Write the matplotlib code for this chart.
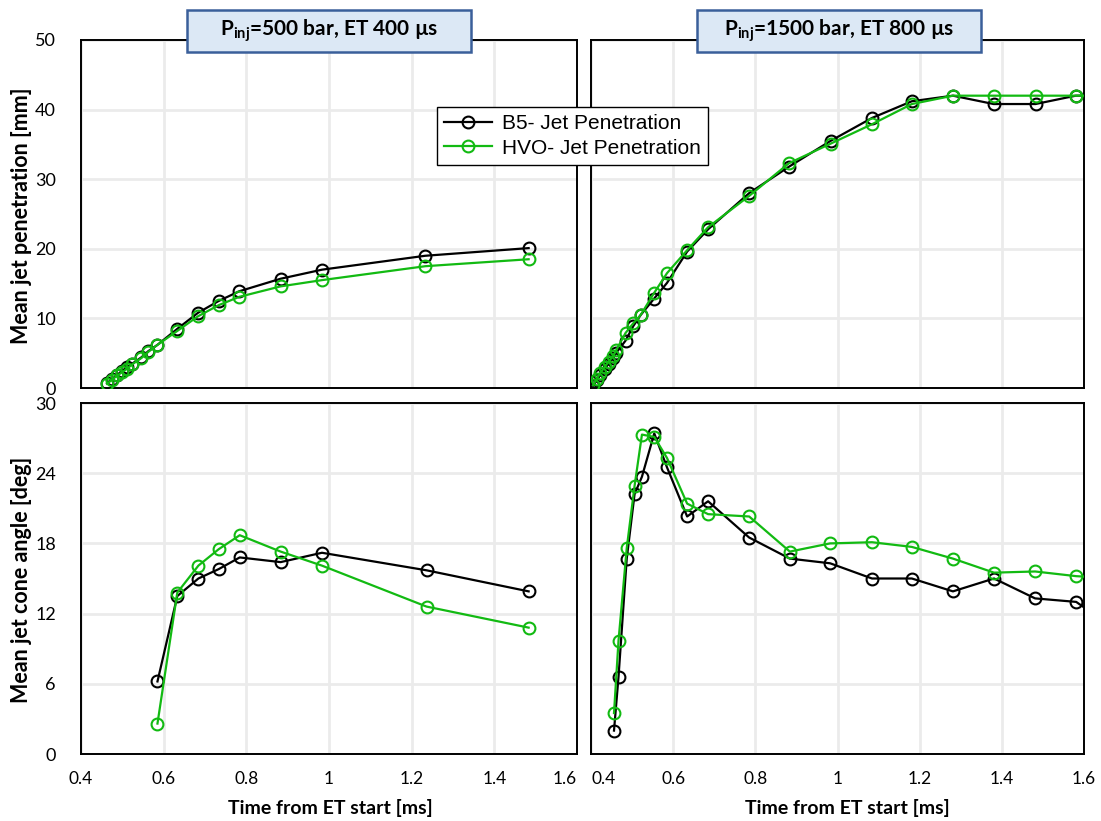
import matplotlib
matplotlib.use("Agg")
import matplotlib.pyplot as plt
from matplotlib.patches import Rectangle

# ----- Data ---------------------------------------------------------------

# Pinj = 500 bar, ET 400 us : jet penetration [mm]
t_pen_500 = [0.463, 0.475, 0.488, 0.500, 0.512, 0.524, 0.546, 0.563, 0.585,
             0.633, 0.683, 0.733, 0.783, 0.883, 0.983, 1.233, 1.483]
b5_pen_500 = [0.7, 1.3, 1.9, 2.5, 3.0, 3.5, 4.4, 5.3, 6.2,
              8.5, 10.8, 12.5, 13.9, 15.7, 17.0, 19.0, 20.1]
hvo_pen_500 = [0.6, 1.2, 1.8, 2.3, 2.8, 3.4, 4.3, 5.2, 6.2,
               8.2, 10.3, 11.9, 13.1, 14.6, 15.5, 17.5, 18.5]

# Pinj = 1500 bar, ET 800 us : jet penetration [mm]
t_pen_1500 = [0.405, 0.414, 0.423, 0.433, 0.443, 0.454, 0.462, 0.484, 0.503,
              0.521, 0.553, 0.585, 0.634, 0.685, 0.785, 0.882, 0.983, 1.084,
              1.181, 1.281, 1.380, 1.482, 1.580, 1.683]
b5_pen_1500 = [0.3, 1.1, 1.9, 2.7, 3.5, 4.3, 5.1, 6.8, 8.9,
               10.5, 12.8, 15.1, 19.6, 22.8, 28.0, 31.8, 35.5, 38.8,
               41.2, 42.0, 40.8, 40.8, 42.0, 42.0]
hvo_pen_1500 = [0.4, 1.3, 2.2, 3.0, 3.8, 4.6, 5.5, 7.9, 9.3,
                10.5, 13.6, 16.5, 19.8, 23.1, 27.6, 32.3, 35.1, 37.9,
                40.8, 42.0, 42.0, 42.0, 42.0, 42.0]

# Pinj = 500 bar, ET 400 us : cone angle [deg]
t_cone_500 = [0.585, 0.633, 0.684, 0.733, 0.784, 0.883, 0.983, 1.236, 1.483]
b5_cone_500 = [6.2, 13.5, 15.0, 15.8, 16.8, 16.4, 17.2, 15.7, 13.9]
hvo_cone_500 = [2.6, 13.8, 16.1, 17.5, 18.7, 17.3, 16.1, 12.6, 10.8]

# Pinj = 1500 bar, ET 800 us : cone angle [deg]
t_cone_1500 = [0.456, 0.467, 0.487, 0.506, 0.524, 0.554, 0.585, 0.634, 0.685,
               0.785, 0.884, 0.982, 1.084, 1.181, 1.281, 1.381, 1.481, 1.581,
               1.683]
b5_cone_1500 = [2.0, 6.6, 16.7, 22.2, 23.7, 27.4, 24.5, 20.3, 21.6,
                18.5, 16.7, 16.3, 15.0, 15.0, 13.9, 15.0, 13.3, 13.0, 10.5]
hvo_cone_1500 = [3.5, 9.7, 17.6, 22.9, 27.3, 27.1, 25.3, 21.4, 20.5,
                 20.3, 17.3, 18.0, 18.1, 17.7, 16.7, 15.5, 15.6, 15.2, 15.0]

titles = ["P$_{\\mathregular{inj}}$=500 bar, ET 400 µs",
          "P$_{\\mathregular{inj}}$=1500 bar, ET 800 µs"]
x_ticks = [0.4, 0.6, 0.8, 1.0, 1.2, 1.4, 1.6]
x_tick_labels = ["0.4", "0.6", "0.8", "1", "1.2", "1.4", "1.6"]
pen_ticks = [0, 10, 20, 30, 40, 50]
cone_ticks = [0, 6, 12, 18, 24, 30]

B5_COLOR = "black"
HVO_COLOR = "#12BA12"
GRID_COLOR = "#EBEBEB"

plt.rcParams["font.family"] = ["Lato", "DejaVu Sans"]
plt.rcParams["mathtext.default"] = "regular"

W, H = 1101, 821
fig = plt.figure(figsize=(W / 100, H / 100), dpi=100)

# axes rectangles in figure fractions (left, bottom, width, height)
left_x, left_w = 81 / W, 496 / W
right_x, right_w = 591 / W, 493 / W
top_y, top_h = (H - 388) / H, 348 / H
bot_y, bot_h = (H - 754) / H, 351 / H

ax_tl = fig.add_axes([left_x, top_y, left_w, top_h])
ax_tr = fig.add_axes([right_x, top_y, right_w, top_h])
ax_bl = fig.add_axes([left_x, bot_y, left_w, bot_h])
ax_br = fig.add_axes([right_x, bot_y, right_w, bot_h])


def _draw(ax, t, b5, hvo):
    style = dict(marker="o", markersize=8.5, markerfacecolor="none",
                 markeredgewidth=1.5, lw=1.6)
    ax.plot(t, b5, color=B5_COLOR, markeredgecolor=B5_COLOR,
            label="B5- Jet Penetration", zorder=3, **style)
    ax.plot(t, hvo, color=HVO_COLOR, markeredgecolor=HVO_COLOR,
            label="HVO- Jet Penetration", zorder=4, **style)


def _style(ax, yticks, show_x, show_y):
    ax.set_xlim(0.4, 1.6)
    ax.set_ylim(yticks[0], yticks[-1])
    ax.set_xticks(x_ticks)
    ax.set_yticks(yticks)
    ax.grid(True, color=GRID_COLOR, lw=2)
    ax.set_axisbelow(True)
    for sp in ax.spines.values():
        sp.set_color("black")
        sp.set_linewidth(1.4)
    ax.tick_params(axis="y", length=0, labelsize=13, pad=18,
                   labelleft=show_y)
    ax.tick_params(axis="x", length=0, labelsize=12.5, pad=12,
                   labelbottom=show_x)
    if show_x:
        ax.set_xticklabels(x_tick_labels)


_draw(ax_tl, t_pen_500, b5_pen_500, hvo_pen_500)
_draw(ax_tr, t_pen_1500, b5_pen_1500, hvo_pen_1500)
_draw(ax_bl, t_cone_500, b5_cone_500, hvo_cone_500)
_draw(ax_br, t_cone_1500, b5_cone_1500, hvo_cone_1500)

_style(ax_tl, pen_ticks, show_x=False, show_y=True)
_style(ax_tr, pen_ticks, show_x=False, show_y=False)
_style(ax_bl, cone_ticks, show_x=True, show_y=True)
_style(ax_br, cone_ticks, show_x=True, show_y=False)

# nudge the touching "1.6" / "0.4" labels apart a little
ax_bl.get_xticklabels()[-1].set_horizontalalignment("right")
ax_bl.get_xticklabels()[-1].set_x(1.6)
ax_br.get_xticklabels()[0].set_horizontalalignment("left")

# axis labels
fig.text(22 / W, 1 - 216 / H, "Mean jet penetration [mm]",
         rotation=90, ha="center", va="center", fontsize=15.5,
         fontweight="bold")
fig.text(22 / W, 1 - 580 / H, "Mean jet cone angle [deg]",
         rotation=90, ha="center", va="center", fontsize=15.5,
         fontweight="bold")
fig.text(330 / W, 1 - 808 / H, "Time from ET start [ms]",
         ha="center", va="center", fontsize=14, fontweight="bold")
fig.text(847 / W, 1 - 808 / H, "Time from ET start [ms]",
         ha="center", va="center", fontsize=14, fontweight="bold")

# condition boxes above each column
for x0, x1, txt in [(187, 471, titles[0]), (697, 981, titles[1])]:
    fig.patches.append(Rectangle((x0 / W, 1 - 52 / H), (x1 - x0) / W,
                                 42 / H, transform=fig.transFigure,
                                 facecolor="#DCE8F5", edgecolor="#3A5F9A",
                                 linewidth=1.8, zorder=5))
    fig.text((x0 + x1) / 2 / W, 1 - 31 / H, txt, ha="center", va="center",
             fontsize=15, fontweight="bold", zorder=6)

# shared legend
handles, labels = ax_tl.get_legend_handles_labels()
fig.legend(handles, labels, loc="upper left",
           bbox_to_anchor=(437 / W, 1 - 107 / H), borderaxespad=0,
           frameon=True, fancybox=False, edgecolor="black", framealpha=1,
           prop={"family": "Liberation Sans", "size": 15},
           handlelength=2.3, handletextpad=0.45, borderpad=0.35,
           labelspacing=0.25)

fig.savefig("out.png", dpi=100)
